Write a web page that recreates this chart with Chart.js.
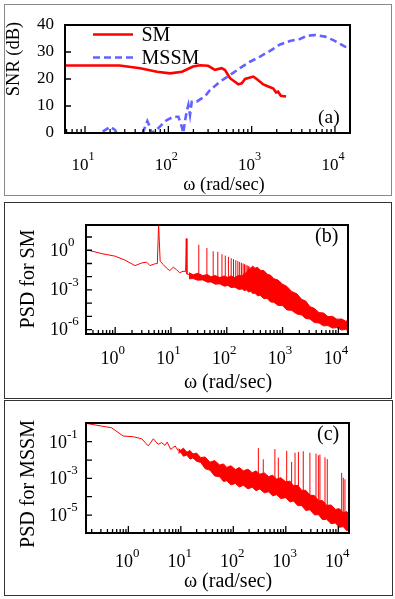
<!DOCTYPE html>
<html>
<head>
<meta charset="utf-8">
<script src="https://cdn.jsdelivr.net/npm/chart.js@4.4.1/dist/chart.umd.min.js"></script>
<style>
  body { margin: 0; background: #fff; }
  .panel { position: absolute; box-sizing: border-box; border: 1px solid #333; }
  .panel canvas { display: block; }
</style>
</head>
<body>
<div class="panel" style="left:4px;top:4px;width:388px;height:192px;border-color:#888"><canvas id="chart-a" width="386" height="190"></canvas></div>
<div class="panel" style="left:4px;top:202px;width:388px;height:197px"><canvas id="chart-b" width="386" height="195"></canvas></div>
<div class="panel" style="left:4px;top:400px;width:389px;height:196px"><canvas id="chart-c" width="387" height="194"></canvas></div>
<script>
"use strict"

// (a) SNR (dB) against omega (rad/sec)
const smOmega = [5.8, 15, 26, 46, 73, 105, 146, 198, 240, 300, 363, 436, 479, 550, 692, 760, 834, 1047, 1150, 1380, 1585, 1820, 1963, 2075, 2240, 2590];
const smSnr = [25, 25, 25, 24, 22.7, 22.1, 22.7, 24.6, 25.1, 24.9, 23.4, 24, 23.3, 20.3, 18, 18.4, 20, 20.9, 20, 18, 17.2, 16.5, 15, 15.3, 13.8, 13.5];
const mssmOmega = [16.3, 20, 23, 26, 45, 50, 56, 60, 63, 72, 83, 96, 115, 132, 145, 151, 158, 166, 174, 182, 191, 219, 251, 288, 316, 417, 550, 724, 955, 1260, 1660, 2190, 2880, 3800, 4570, 5750, 7590, 9550, 13200, 15500];
const mssmSnr = [0.5, 2.3, 1.1, -3, -3, 0.5, 4.4, 2.3, 0, 1.1, 3, 4.8, 6, 6, 2.3, 0, 4.2, 7.9, 10.4, 6.7, 11.6, 11.6, 12.8, 14.3, 15.9, 19, 21.5, 24, 26.4, 28.3, 30.4, 32.8, 34.1, 34.8, 36, 36.3, 35.7, 34.4, 32, 31];

// (b) PSD for SM, values given as log10(PSD)
const smLowOmega = [0.33, 0.58, 1.0, 1.5, 2.27, 3.0, 3.66, 4.2, 5.1, 5.7, 6.0, 6.4, 7.3, 8.3, 9.5, 11, 12.5, 14.3, 16.4, 18.3, 18.8, 19.3, 21.5];
const smLowLog = [0, -0.26, -0.45, -0.75, -1.16, -0.96, -0.9, -1.16, -1.03, -1.0, 1.95, -0.83, -1.09, -1.34, -1.54, -1.28, -1.46, -1.7, -1.59, -1.6, 0.88, -1.8, -1.84];
const smSpikeOmega = [31.5, 44, 57, 69, 82, 94, 107, 120, 132, 145, 158, 170, 183, 196, 208, 221, 233, 246, 259, 271];
const smSpikeTopLog = [0.42, 0.17, -0.08, -0.12, -0.3, -0.4, -0.5, -0.6, -0.68, -0.75, -0.82, -0.88, -0.95, -1.0, -1.05, -1.1, -1.15, -1.2, -1.25, -1.3];
const smSpikeBaseLog = [-2.0, -2.1, -2.15, -2.2, -2.3, -2.3, -2.4, -2.4, -2.45, -2.5, -2.5, -2.5, -2.6, -2.6, -2.7, -2.7, -2.7, -2.7, -2.7, -2.7];
const smBandOmega = [21, 25, 30, 37, 45, 52, 62, 75, 90, 105, 118, 140, 165, 190, 205, 225, 245, 270, 290, 320, 355, 400, 465, 530, 610, 700, 820, 1000, 1200, 1450, 1800, 2200, 2600, 3100, 3700, 4500, 5400, 6500, 7800, 9400, 11500, 13500, 15000];
const smBandHighLog = [-1.69, -1.86, -1.74, -1.91, -1.84, -2.01, -1.91, -2.06, -1.94, -2.06, -1.94, -2.06, -1.89, -1.96, -1.74, -1.71, -1.44, -1.41, -1.19, -1.36, -1.29, -1.51, -1.54, -1.81, -1.89, -2.16, -2.24, -2.56, -2.74, -3.11, -3.29, -3.71, -3.84, -4.26, -4.39, -4.71, -4.74, -5.01, -4.99, -5.21, -5.19, -5.36, -5.29];
const smBandLowLog = [-2.16, -2.14, -2.26, -2.24, -2.41, -2.39, -2.56, -2.54, -2.71, -2.66, -2.81, -2.79, -2.96, -2.92, -3.06, -2.99, -3.16, -3.09, -3.26, -3.24, -3.44, -3.42, -3.66, -3.64, -3.91, -3.92, -4.16, -4.19, -4.51, -4.54, -4.81, -4.89, -5.16, -5.19, -5.46, -5.49, -5.71, -5.69, -5.88, -5.84, -6.03, -5.97, -6.11];

// (c) PSD for MSSM, log10 values
const msLowOmega = [0.156, 0.48, 0.8, 1.25, 1.8, 2.4, 3.0, 3.7, 4.3, 5.0, 5.5, 6.4, 7.8, 9.0];
const msLowLog = [0, -0.24, -0.69, -0.73, -0.84, -1.23, -0.84, -1.14, -1.05, -1.2, -1.02, -1.42, -1.23, -1.51];
const msSpikeOmega = [300, 372, 620, 720, 1040, 1290, 1500, 1740, 2150, 2880, 3760, 4170, 4470, 5580, 6170, 11600, 12450, 13400];
const msSpikeTopLog = [-1.35, -1.96, -1.4, -1.87, -1.5, -2.1, -1.6, -1.56, -1.52, -1.6, -1.65, -1.74, -1.7, -1.85, -1.95, -2.7, -2.96, -3.05];
const msSpikeBaseLog = [-3.0, -3.05, -3.3, -3.4, -3.6, -3.7, -3.8, -3.9, -4.05, -4.3, -4.6, -4.7, -4.75, -4.9, -5.0, -5.3, -5.35, -5.4];
const msBandOmega = [9, 10, 11.2, 13, 15, 17, 20, 24, 29, 36, 44, 55, 65, 75, 90, 110, 130, 155, 190, 230, 270, 320, 390, 470, 560, 670, 800, 1000, 1200, 1400, 1700, 2000, 2400, 2900, 3500, 4200, 5000, 6000, 7300, 8800, 10500, 12400, 14500, 16500];
const msBandHighLog = [-1.38, -1.47, -1.35, -1.57, -1.48, -1.67, -1.62, -1.87, -1.83, -2.12, -2.03, -2.27, -2.21, -2.4, -2.31, -2.52, -2.41, -2.59, -2.5, -2.69, -2.59, -2.77, -2.7, -2.9, -2.83, -3.04, -2.96, -3.19, -3.15, -3.4, -3.38, -3.65, -3.65, -3.92, -3.93, -4.22, -4.21, -4.47, -4.45, -4.69, -4.65, -4.87, -4.81, -5.02];
const msBandLowLog = [-1.62, -1.58, -1.79, -1.73, -1.95, -1.88, -2.07, -2.13, -2.47, -2.55, -2.87, -2.91, -3.17, -3.13, -3.35, -3.28, -3.47, -3.38, -3.57, -3.48, -3.67, -3.58, -3.79, -3.73, -3.95, -3.89, -4.1, -4.05, -4.29, -4.23, -4.49, -4.48, -4.75, -4.71, -4.99, -4.98, -5.25, -5.23, -5.47, -5.43, -5.67, -5.63, -5.85, -5.81];

// tick labels
const snrTicks = [0, 10, 20, 30, 40];
const xPowA = [1, 2, 3, 4];
const xPowB = [0, 1, 2, 3, 4];
const yPowB = [0, -3, -6];
const yDecB = [1e1, 1e0, 1e-1, 1e-2, 1e-3, 1e-4, 1e-5, 1e-6];
const xPowC = [0, 1, 2, 3, 4];
const yPowC = [-1, -3, -5];
const yDecC = [1e0, 1e-1, 1e-2, 1e-3, 1e-4, 1e-5];

const FONT = '"Liberation Serif", "DejaVu Serif", serif';
const RED = '#ff0000';
const BLUE = '#6262ff';

const pts = (xs, ys) => xs.map((x, i) => ({x: x, y: ys[i]}));
const logPts = (xs, logs) => xs.map((x, i) => ({x: x, y: Math.pow(10, logs[i])}));

function spikes(xs, topLogs, baseLogs) {
  let out = [];
  xs.forEach((x, i) => out.push({x: x, y: Math.pow(10, baseLogs[i])}, {x: x, y: Math.pow(10, topLogs[i])}, {x: x, y: null}));
  return out;
}

// "10" with a raised exponent
function drawPow(ctx, exp, x, y, size, align) {
  let supSize = size * 0.72;
  ctx.font = `${size}px ${FONT}`;
  let w1 = ctx.measureText('10').width;
  ctx.font = `${supSize}px ${FONT}`;
  let w2 = ctx.measureText(String(exp)).width;
  let left = align == 'center' ? x - (w1 + w2) / 2 : x;
  ctx.textAlign = 'left';
  ctx.textBaseline = 'alphabetic';
  ctx.font = `${size}px ${FONT}`;
  ctx.fillText('10', left, y);
  ctx.font = `${supSize}px ${FONT}`;
  ctx.fillText(String(exp), left + w1, y - size * 0.55);
}

const decor = {
  id: 'decor',
  afterDatasetsDraw(chart, args, o) {
    const {ctx, chartArea: a} = chart;
    const xs = chart.scales.x, ys = chart.scales.y;
    ctx.save();
    ctx.strokeStyle = '#000';
    ctx.fillStyle = '#000';

    // inward ticks
    ctx.lineWidth = 1.3;
    ctx.beginPath();
    const e0 = Math.floor(Math.log10(xs.min)), e1 = Math.ceil(Math.log10(xs.max));
    for (let e = e0; e <= e1; e++) {
      for (let k = 1; k <= 9; k++) {
        const v = k * Math.pow(10, e);
        if (v < xs.min || v > xs.max) continue;
        const px = xs.getPixelForValue(v);
        ctx.moveTo(px, a.bottom);
        ctx.lineTo(px, a.bottom - (k == 1 ? 7 : 4));
      }
    }
    o.yTicks.forEach(v => {
      const py = ys.getPixelForValue(v);
      ctx.moveTo(a.left, py);
      ctx.lineTo(a.left + 6, py);
    });
    ctx.stroke();

    // plot frame
    ctx.lineWidth = 2;
    ctx.strokeRect(a.left, a.top, a.right - a.left, a.bottom - a.top);

    // power-of-ten labels
    o.xPows.forEach(p => drawPow(ctx, p, xs.getPixelForValue(Math.pow(10, p)) + o.xLabelDx, a.bottom + o.xLabelDy, o.tickSize, 'center'));
    if (o.yPows) {
      o.yPows.forEach(p => drawPow(ctx, p, o.yLabelX, ys.getPixelForValue(Math.pow(10, p)) + o.yLabelDy, o.tickSize, 'left'));
    }

    // axis titles
    ctx.textBaseline = 'alphabetic';
    ctx.textAlign = 'center';
    ctx.font = `${o.xTitle.size}px ${FONT}`;
    ctx.fillText(o.xTitle.text, o.xTitle.x, o.xTitle.y);
    ctx.save();
    ctx.translate(o.yTitle.x, o.yTitle.y);
    ctx.rotate(-Math.PI / 2);
    ctx.font = `${o.yTitle.size}px ${FONT}`;
    ctx.fillText(o.yTitle.text, 0, 0);
    ctx.restore();

    // panel tag
    ctx.textAlign = 'left';
    ctx.font = `${o.tag.size}px ${FONT}`;
    ctx.fillText(o.tag.text, o.tag.x, o.tag.y);

    // legend
    if (o.legend) {
      o.legend.forEach((item, i) => {
        const ds = chart.data.datasets[i];
        ctx.strokeStyle = ds.borderColor;
        ctx.lineWidth = ds.borderWidth;
        ctx.setLineDash(ds.borderDash || []);
        ctx.beginPath();
        ctx.moveTo(item.x0, item.y);
        ctx.lineTo(item.x1, item.y);
        ctx.stroke();
        ctx.setLineDash([]);
        ctx.fillStyle = '#000';
        ctx.font = `${item.size}px ${FONT}`;
        ctx.fillText(ds.label, item.tx, item.ty);
      });
    }
    ctx.restore();
  }
};

function logAxis(min, max, size, horizontal) {
  return {
    type: 'logarithmic', min: min, max: max,
    grid: {display: false}, border: {display: false}, ticks: {display: false},
    afterFit: s => { if (horizontal) s.height = size; else s.width = size; }
  };
}

function psdDatasets(lowW, lowLog, spW, spTop, spBase, bandW, bandHi, bandLo) {
  return [
    {data: logPts(lowW, lowLog), borderColor: RED, borderWidth: 1, pointRadius: 0},
    {data: spikes(spW, spTop, spBase), borderColor: RED, borderWidth: 1, pointRadius: 0},
    {data: logPts(bandW, bandHi), borderColor: RED, backgroundColor: RED, borderWidth: 1, pointRadius: 0, fill: '+1'},
    {data: logPts(bandW, bandLo), borderColor: RED, borderWidth: 1, pointRadius: 0, fill: false}
  ];
}

// (a)
new Chart(document.getElementById('chart-a'), {
  type: 'line',
  plugins: [decor],
  data: {
    datasets: [
      {label: 'SM', data: pts(smOmega, smSnr), borderColor: RED, borderWidth: 2.6, pointRadius: 0},
      {label: 'MSSM', data: pts(mssmOmega, mssmSnr), borderColor: BLUE, borderWidth: 2.6, borderDash: [7, 4], pointRadius: 0}
    ]
  },
  options: {
    animation: false, responsive: false, devicePixelRatio: 1,
    layout: {padding: {left: 0, right: 41, top: 20, bottom: 0}},
    plugins: {
      legend: {display: false}, tooltip: {enabled: false},
      decor: {
        yTicks: snrTicks, xPows: xPowA, xLabelDx: -2, xLabelDy: 36.5, tickSize: 17,
        xTitle: {text: 'ω (rad/sec)', x: 219, y: 184.5, size: 18.5},
        yTitle: {text: 'SNR (dB)', x: 13.5, y: 54, size: 18.5},
        tag: {text: '(a)', x: 313, y: 118, size: 19.5},
        legend: [
          {x0: 88, x1: 128, y: 29.5, tx: 136.5, ty: 35.5, size: 20},
          {x0: 88, x1: 130, y: 52.5, tx: 136.5, ty: 58.5, size: 20}
        ]
      }
    },
    scales: {
      x: logAxis(5.75, 15150, 62, true),
      y: {
        type: 'linear', min: 0, max: 40,
        grid: {display: false}, border: {display: false},
        ticks: {stepSize: 10, padding: 3, color: '#000', font: {family: FONT, size: 17}},
        afterBuildTicks: s => { s.ticks = snrTicks.map(v => ({value: v})); },
        afterFit: s => { s.width = 60; }
      }
    }
  }
});

// (b)
new Chart(document.getElementById('chart-b'), {
  type: 'line',
  plugins: [decor],
  data: {
    datasets: psdDatasets(smLowOmega, smLowLog, smSpikeOmega, smSpikeTopLog, smSpikeBaseLog, smBandOmega, smBandHighLog, smBandLowLog)
  },
  options: {
    animation: false, responsive: false, devicePixelRatio: 1,
    layout: {padding: {left: 0, right: 43, top: 22, bottom: 0}},
    plugins: {
      legend: {display: false}, tooltip: {enabled: false},
      decor: {
        yTicks: yDecB, xPows: xPowB, xLabelDx: -2.5, xLabelDy: 29.5, tickSize: 18,
        yPows: yPowB, yLabelX: 45, yLabelDy: 5.5,
        xTitle: {text: 'ω (rad/sec)', x: 223, y: 185, size: 20},
        yTitle: {text: 'PSD for SM', x: 29, y: 76, size: 20},
        tag: {text: '(b)', x: 310, y: 39, size: 20}
      }
    },
    scales: {
      x: logAxis(0.327, 14870, 64, true),
      y: logAxis(4.73e-7, 80.5, 81, false)
    }
  }
});

// (c)
new Chart(document.getElementById('chart-c'), {
  type: 'line',
  plugins: [decor],
  data: {
    datasets: psdDatasets(msLowOmega, msLowLog, msSpikeOmega, msSpikeTopLog, msSpikeBaseLog, msBandOmega, msBandHighLog, msBandLowLog)
  },
  options: {
    animation: false, responsive: false, devicePixelRatio: 1,
    layout: {padding: {left: 0, right: 43, top: 22, bottom: 0}},
    plugins: {
      legend: {display: false}, tooltip: {enabled: false},
      decor: {
        yTicks: yDecC, xPows: xPowC, xLabelDx: -1, xLabelDy: 34, tickSize: 18,
        yPows: yPowC, yLabelX: 44, yLabelDy: 6,
        xTitle: {text: 'ω (rad/sec)', x: 223, y: 186, size: 20},
        yTitle: {text: 'PSD for MSSM', x: 29, y: 83, size: 20},
        tag: {text: '(c)', x: 312, y: 39, size: 20}
      }
    },
    scales: {
      x: logAxis(0.156, 16000, 62, true),
      y: logAxis(1.05e-6, 1.05, 81, false)
    }
  }
});
</script>
</body>
</html>
